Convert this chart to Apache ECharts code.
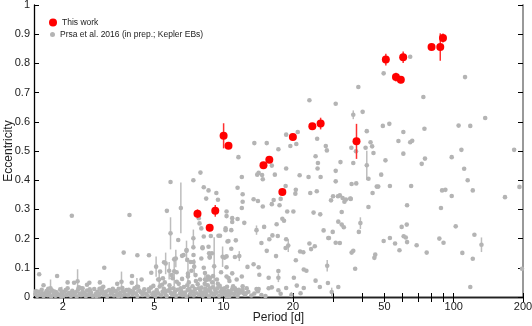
<!DOCTYPE html>
<html>
<head>
<meta charset="utf-8">
<script src="https://cdn.jsdelivr.net/npm/echarts@6/dist/echarts.min.js"></script>
<style>
  html, body { margin: 0; padding: 0; background: #fff; }
  #main { width: 532px; height: 326px; }
</style>
</head>
<body>
<div id="main"></div>
<script>
  // This work: [period (d), eccentricity, error]
  var workPoints = [
    [7.7, 0.285, 0.015], [8.7, 0.237, 0.012], [9.2, 0.295, 0.02], [10.0, 0.552, 0.043],
    [10.5, 0.518, 0.01], [14.9, 0.451, 0.01], [15.8, 0.470, 0.01], [20.0, 0.548, 0.01],
    [18.0, 0.360, 0.01], [24.3, 0.585, 0.01], [26.4, 0.594, 0.02], [37.8, 0.533, 0.06],
    [50.7, 0.813, 0.02], [56.1, 0.753, 0.015], [58.9, 0.744, 0.012], [60.3, 0.821, 0.02],
    [80.1, 0.856, 0.01], [87.4, 0.856, 0.047], [89.8, 0.887, 0.015]
  ];

  // Prsa et al. 2016, scattered systems: [period, eccentricity]
  var prsaPoints = [
    [2.19, 0.278], [3.9, 0.281], [3.68, 0.152], [3.03, 0.1], [1.58, 0.078], [1.89, 0.072],
    [2.24, 0.049], [2.61, 0.049], [3.99, 0.049], [2.38, 0.031], [2.44, 0.03], [2.89, 0.028],
    [3.0, 0.035], [2.63, 0.02],
    [7.93, 0.426], [5.88, 0.394], [7.39, 0.40], [8.2, 0.376], [8.6, 0.365], [9.3, 0.356],
    [8.4, 0.337], [9.45, 0.333], [5.67, 0.295], [7.8, 0.27], [7.86, 0.252], [8.0, 0.235],
    [8.2, 0.207], [8.8, 0.209], [9.5, 0.21], [9.65, 0.21], [10.2, 0.235], [10.4, 0.19],
    [6.35, 0.195], [7.39, 0.17], [8.1, 0.17], [8.6, 0.172], [8.9, 0.15], [8.7, 0.138],
    [4.22, 0.143], [4.74, 0.143], [4.85, 0.083], [5.51, 0.119], [6.7, 0.144], [6.9, 0.161],
    [8.1, 0.167], [6.1, 0.129], [6.6, 0.141], [6.95, 0.127], [7.2, 0.12], [7.4, 0.12],
    [7.4, 0.144], [8.0, 0.132], [8.2, 0.1], [8.65, 0.15], [8.7, 0.135], [8.4, 0.058],
    [8.65, 0.06], [8.75, 0.066], [10.1, 0.135], [10.3, 0.102], [5.3, 0.087], [5.45, 0.064],
    [6.0, 0.064], [10.8, 0.165],
    [23.6, 0.674], [21.0, 0.565], [18.7, 0.556], [20.7, 0.524], [19.5, 0.517], [25.5, 0.542],
    [27.8, 0.517], [28.1, 0.502], [13.6, 0.527], [15.4, 0.527], [17.3, 0.506], [11.6, 0.479],
    [25.1, 0.482], [25.7, 0.459], [25.6, 0.44], [18.7, 0.44], [16.2, 0.45], [14.0, 0.419],
    [14.2, 0.425], [14.7, 0.418], [14.8, 0.403], [16.7, 0.419], [12.0, 0.411], [21.4, 0.417],
    [23.4, 0.411], [26.4, 0.411], [11.5, 0.374], [12.1, 0.352], [18.6, 0.38], [20.6, 0.367],
    [20.5, 0.354], [23.8, 0.356], [25.4, 0.362], [12.1, 0.326], [13.5, 0.335], [14.1, 0.329],
    [14.8, 0.31], [16.5, 0.332], [16.2, 0.318], [17.7, 0.336], [17.5, 0.314], [12.0, 0.305],
    [18.9, 0.293], [20.1, 0.293], [24.6, 0.289], [26.3, 0.283], [10.3, 0.293], [10.3, 0.277],
    [10.9, 0.27], [10.9, 0.257], [11.5, 0.267], [12.3, 0.254], [10.2, 0.229], [10.8, 0.229],
    [15.0, 0.24], [17.0, 0.249], [18.0, 0.268], [18.3, 0.261], [16.3, 0.211], [17.2, 0.209],
    [15.8, 0.198], [14.6, 0.185], [18.7, 0.198], [18.6, 0.168], [10.5, 0.192], [11.3, 0.194],
    [23.6, 0.183], [24.0, 0.164], [24.9, 0.174], [27.2, 0.228], [28.5, 0.202], [15.4, 0.158],
    [16.9, 0.14], [10.3, 0.139], [11.2, 0.137], [21.5, 0.156], [22.2, 0.153], [20.6, 0.126],
    [12.7, 0.103], [14.2, 0.102], [13.5, 0.112], [14.3, 0.076], [22.3, 0.094], [22.9, 0.09],
    [10.9, 0.081], [10.3, 0.07], [10.5, 0.065], [17.3, 0.089], [15.7, 0.066], [20.2, 0.066],
    [25.1, 0.056], [11.0, 0.037], [12.1, 0.037], [13.9, 0.027], [14.2, 0.027], [15.7, 0.03],
    [16.2, 0.033], [17.3, 0.023], [18.7, 0.031], [20.8, 0.039], [22.3, 0.031], [26.2, 0.034],
    [15.2, 0.003], [21.6, 0.013], [11.6, 0.013], [12.2, 0.013], [12.5, 0.013], [10.3, 0.003],
    [10.6, 0.003], [17.7, 0.011],
    [64.7, 0.823], [49.6, 0.766], [38.5, 0.719], [30.7, 0.662], [40.2, 0.634], [73.8, 0.685],
    [49.2, 0.586], [52.5, 0.593], [41.9, 0.568], [60.4, 0.565], [74.6, 0.576], [57.5, 0.534],
    [64.7, 0.53], [66.0, 0.535], [35.9, 0.511], [37.6, 0.499], [41.4, 0.511], [43.5, 0.53],
    [44.2, 0.516], [44.8, 0.493], [60.4, 0.491], [32.2, 0.462], [36.6, 0.459], [50.5, 0.468],
    [72.6, 0.456], [75.0, 0.474], [30.7, 0.432], [30.7, 0.396], [42.6, 0.405], [48.4, 0.419],
    [36.0, 0.387], [37.7, 0.389], [46.3, 0.378], [47.0, 0.378], [52.8, 0.38], [65.3, 0.38],
    [44.4, 0.356], [29.9, 0.345], [29.3, 0.331], [31.4, 0.345], [32.0, 0.348], [32.9, 0.339],
    [34.0, 0.334], [35.5, 0.337], [33.5, 0.326], [35.7, 0.336], [42.6, 0.308], [62.7, 0.314],
    [32.6, 0.291], [31.5, 0.258], [32.6, 0.248], [33.3, 0.239], [38.7, 0.223], [29.8, 0.223],
    [28.7, 0.202], [30.7, 0.186], [32.0, 0.185], [36.0, 0.152], [36.6, 0.158], [45.6, 0.145],
    [45.2, 0.134], [49.6, 0.192], [52.8, 0.202], [55.6, 0.183], [58.1, 0.16], [59.4, 0.24],
    [60.6, 0.208], [61.9, 0.204], [62.5, 0.248], [62.7, 0.188], [69.0, 0.177], [76.3, 0.152],
    [37.3, 0.097], [28.4, 0.048], [31.5, 0.034],
    [112, 0.753], [137, 0.613], [105, 0.587], [118, 0.586], [108, 0.504], [183, 0.504],
    [98, 0.479], [111, 0.439], [115, 0.4], [89, 0.365], [92, 0.367], [121, 0.365],
    [98, 0.346], [167, 0.342], [193, 0.377], [88, 0.305], [102, 0.242], [123, 0.213],
    [86.6, 0.2], [90.3, 0.186], [109, 0.151], [121, 0.131], [198, 0.097], [118, 0.034]
  ];

  // Prsa et al. 2016, near-circular short-period systems: [period, eccentricity]
  var prsaBand = [
    [1.52, 0.01], [1.55, 0.004], [1.57, 0.018], [1.6, 0.008], [1.62, 0.025], [1.65, 0.003],
    [1.68, 0.012], [1.7, 0.02], [1.72, 0.006], [1.75, 0.015], [1.78, 0.002], [1.8, 0.022],
    [1.83, 0.01], [1.86, 0.004], [1.88, 0.016], [1.92, 0.008], [1.95, 0.026], [1.98, 0.012],
    [2.01, 0.003], [2.04, 0.018], [2.08, 0.007], [2.1, 0.03], [2.13, 0.014], [2.17, 0.004],
    [2.2, 0.021], [2.23, 0.009], [2.27, 0.016], [2.3, 0.002], [2.33, 0.025], [2.37, 0.011],
    [2.4, 0.006], [2.44, 0.019], [2.48, 0.013], [2.52, 0.003], [2.55, 0.022], [2.6, 0.008],
    [2.65, 0.015], [2.7, 0.004], [2.74, 0.027], [2.78, 0.01], [2.83, 0.018], [2.88, 0.005],
    [2.92, 0.013], [2.97, 0.021], [3.02, 0.007], [3.07, 0.016], [3.12, 0.003], [3.18, 0.024],
    [3.23, 0.011], [3.28, 0.017], [3.34, 0.005], [3.4, 0.02], [3.45, 0.009], [3.5, 0.028],
    [3.55, 0.014], [3.6, 0.004], [3.66, 0.019], [3.72, 0.01], [3.78, 0.024], [3.84, 0.006],
    [3.9, 0.015], [3.96, 0.02], [4.02, 0.008], [4.1, 0.03], [4.16, 0.012], [4.22, 0.003],
    [4.3, 0.022], [4.37, 0.016], [4.44, 0.007], [4.52, 0.026], [4.6, 0.011], [4.68, 0.004],
    [4.75, 0.019], [4.83, 0.032], [4.9, 0.009], [4.98, 0.015], [5.05, 0.003], [5.12, 0.024],
    [5.2, 0.012], [5.28, 0.036], [5.35, 0.006], [5.43, 0.018], [5.5, 0.028], [5.58, 0.01],
    [5.66, 0.003], [5.74, 0.022], [5.82, 0.04], [5.9, 0.014], [5.98, 0.007], [6.06, 0.03],
    [6.14, 0.018], [6.22, 0.004], [6.3, 0.025], [6.38, 0.045], [6.46, 0.011], [6.55, 0.02],
    [6.63, 0.006], [6.72, 0.034], [6.8, 0.015], [6.9, 0.002], [6.98, 0.024], [7.06, 0.05],
    [7.15, 0.01], [7.24, 0.019], [7.33, 0.037], [7.42, 0.005], [7.52, 0.027], [7.62, 0.013],
    [7.72, 0.044], [7.82, 0.008], [7.92, 0.021], [8.02, 0.032], [8.12, 0.004], [8.22, 0.016],
    [8.32, 0.028], [8.42, 0.01], [8.53, 0.04], [8.64, 0.002], [8.75, 0.02], [8.86, 0.012],
    [8.97, 0.033], [9.08, 0.006], [9.2, 0.024], [9.32, 0.015], [9.44, 0.045], [9.56, 0.004],
    [9.68, 0.018], [9.8, 0.028], [9.92, 0.009], [10.05, 0.022], [10.2, 0.013], [10.35, 0.035],
    [10.5, 0.006], [10.7, 0.019], [10.9, 0.027], [11.1, 0.01], [11.3, 0.02], [11.5, 0.003],
    [11.8, 0.016], [12.1, 0.024], [12.4, 0.008], [12.8, 0.018], [13.2, 0.005], [13.6, 0.012],
    [14.1, 0.02], [14.6, 0.007],
    [1.53, 0.02], [1.63, 0.013], [1.73, 0.028], [1.84, 0.019], [1.97, 0.002], [2.06, 0.024],
    [2.19, 0.013], [2.35, 0.033], [2.5, 0.009], [2.62, 0.026], [2.8, 0.002], [2.95, 0.03],
    [3.1, 0.019], [3.3, 0.028], [3.48, 0.002], [3.63, 0.031], [3.87, 0.025], [4.05, 0.018],
    [4.25, 0.035], [4.48, 0.015], [4.72, 0.026], [4.95, 0.038], [5.15, 0.016], [5.4, 0.042],
    [5.6, 0.02], [5.85, 0.028], [6.1, 0.01], [6.26, 0.052], [6.5, 0.03], [6.7, 0.01],
    [6.95, 0.04], [7.1, 0.028], [7.38, 0.018], [7.58, 0.055], [7.8, 0.03], [8.05, 0.012],
    [8.28, 0.045], [8.48, 0.022], [8.7, 0.03], [8.92, 0.05], [9.14, 0.01], [9.38, 0.03],
    [9.62, 0.038], [9.85, 0.015], [10.1, 0.03], [10.45, 0.02], [10.8, 0.012], [11.2, 0.03],
    [11.65, 0.025], [12.6, 0.03],
    [5.2, 0.06], [5.55, 0.05], [5.95, 0.075], [6.25, 0.085], [6.6, 0.062], [7.0, 0.07],
    [7.25, 0.09], [7.55, 0.075], [7.9, 0.06], [8.3, 0.082], [8.55, 0.07], [9.0, 0.072],
    [9.35, 0.06], [9.75, 0.085], [10.6, 0.055], [11.4, 0.06], [12.0, 0.07], [4.4, 0.06],
    [4.0, 0.072], [3.45, 0.045], [2.9, 0.05], [2.55, 0.042], [2.1, 0.05], [1.65, 0.04]
  ];

  // Prsa et al. 2016 with visible uncertainties: [period, eccentricity, error]
  var prsaErrBars = [
    [1.77, 0.03, 0.03], [1.98, 0.018, 0.017], [2.32, 0.054, 0.041], [3.6, 0.052, 0.035],
    [4.2, 0.035, 0.03], [5.09, 0.104, 0.035], [5.25, 0.06, 0.03], [5.6, 0.115, 0.037],
    [5.8, 0.09, 0.03], [5.88, 0.218, 0.055], [6.1, 0.088, 0.05], [6.52, 0.305, 0.087],
    [6.2, 0.132, 0.03], [6.9, 0.158, 0.035], [7.0, 0.08, 0.05], [7.39, 0.201, 0.03],
    [7.45, 0.104, 0.025], [8.3, 0.06, 0.025], [9.1, 0.105, 0.1], [9.9, 0.138, 0.035],
    [11.7, 0.14, 0.017], [13.9, 0.229, 0.016], [19.1, 0.176, 0.022], [28.2, 0.107, 0.02],
    [17.3, 0.066, 0.015], [19.7, 0.007, 0.01], [36.6, 0.624, 0.015], [41.9, 0.451, 0.05],
    [39.3, 0.253, 0.02], [29.5, 0.017, 0.015], [132, 0.179, 0.025]
  ];

  var periodTicks = [2, 3, 4, 5, 6, 7, 8, 9, 10, 20, 30, 40, 50, 60, 70, 80, 90, 100, 200];
  var periodLabels = [2, 5, 10, 20, 50, 100, 200];

  var font = '"Liberation Sans", Arial, Helvetica, sans-serif';
  var prsaName = 'Prsa et al. 2016 (in prep.; Kepler EBs)';
  var workColor = '#ff0000';
  var prsaColor = '#b4b4b4';

  function errorBars(color, width) {
    return function (params, api) {
      var p = api.value(0), e = api.value(1), d = api.value(2);
      var top = api.coord([p, Math.min(e + d, 1)]);
      var bot = api.coord([p, Math.max(e - d, 0)]);
      return {
        type: 'line',
        shape: { x1: top[0], y1: top[1], x2: bot[0], y2: bot[1] },
        style: { stroke: color, lineWidth: width }
      };
    };
  }

  var prsaAll = prsaBand.concat(prsaPoints).concat(prsaErrBars.map(function (d) { return [d[0], d[1]]; }));

  var xBase = {
    type: 'log', logBase: 10, min: 1.5, max: 200,
    splitLine: { show: false },
    minorTick: { show: false }
  };

  var myChart = echarts.init(document.getElementById('main'), null, { renderer: 'canvas' });
  myChart.setOption({
    animation: false,
    backgroundColor: '#fff',
    textStyle: { fontFamily: font },
    grid: { left: 34, right: 9, top: 5, bottom: 29, outerBoundsMode: 'none', containLabel: false },
    legend: [{
      data: ['This work'],
      left: 44, top: 13,
      icon: 'circle', itemWidth: 8, itemHeight: 8,
      textStyle: { fontSize: 8.5, color: '#222', fontFamily: font }
    }, {
      data: [prsaName],
      left: 45, top: 25,
      icon: 'circle', itemWidth: 5, itemHeight: 5,
      textStyle: { fontSize: 8.5, color: '#222', fontFamily: font }
    }],
    xAxis: [Object.assign({}, xBase, {
      position: 'bottom',
      name: 'Period [d]', nameLocation: 'middle', nameGap: 15, nameMoveOverlap: false,
      nameTextStyle: { fontSize: 12, color: '#222', fontFamily: font },
      axisLine: { lineStyle: { color: '#000', width: 1.3 } },
      axisTick: { inside: true, length: 4, customValues: periodTicks, lineStyle: { color: '#000' } },
      axisLabel: { customValues: periodLabels, margin: 4, fontSize: 11, color: '#222', fontFamily: font }
    }), Object.assign({}, xBase, {
      position: 'top',
      axisLine: { lineStyle: { color: '#222', width: 1.3 } },
      axisTick: { inside: true, length: 5, customValues: periodTicks, lineStyle: { color: '#000' } },
      axisLabel: { show: false }
    })],
    yAxis: [{
      type: 'value', min: 0, max: 1, interval: 0.1,
      position: 'left',
      name: 'Eccentricity', nameLocation: 'middle', nameGap: 19, nameMoveOverlap: false,
      nameTextStyle: { fontSize: 12, color: '#222', fontFamily: font },
      splitLine: { show: false },
      axisLine: { show: true, lineStyle: { color: '#000', width: 1.3 } },
      axisTick: { show: true, inside: true, length: 5, lineStyle: { color: '#000' } },
      axisLabel: { margin: 4, fontSize: 11, color: '#222', fontFamily: font }
    }, {
      type: 'value', min: 0, max: 1, interval: 0.1,
      position: 'right',
      splitLine: { show: false },
      axisLine: { show: true, lineStyle: { color: '#999', width: 2 } },
      axisTick: { show: true, inside: true, length: 5, lineStyle: { color: '#000' } },
      axisLabel: { show: false }
    }],
    series: [{
      name: 'This work',
      type: 'scatter',
      symbol: 'circle',
      symbolSize: 8,
      itemStyle: { color: workColor, opacity: 1 },
      data: workPoints.map(function (d) { return [d[0], d[1]]; }),
      z: 4
    }, {
      name: prsaName,
      type: 'scatter',
      symbol: 'circle',
      symbolSize: 4.6,
      itemStyle: { color: prsaColor, opacity: 1 },
      data: prsaAll,
      z: 2
    }, {
      name: prsaName,
      type: 'custom',
      renderItem: errorBars('#bdbdbd', 1.5),
      encode: { x: 0, y: 1 },
      itemStyle: { color: prsaColor },
      data: prsaErrBars,
      silent: true,
      z: 1
    }, {
      name: 'This work',
      type: 'custom',
      renderItem: errorBars('#ff3030', 1.5),
      encode: { x: 0, y: 1 },
      itemStyle: { color: workColor },
      data: workPoints,
      silent: true,
      z: 3
    }]
  });
</script>
</body>
</html>
